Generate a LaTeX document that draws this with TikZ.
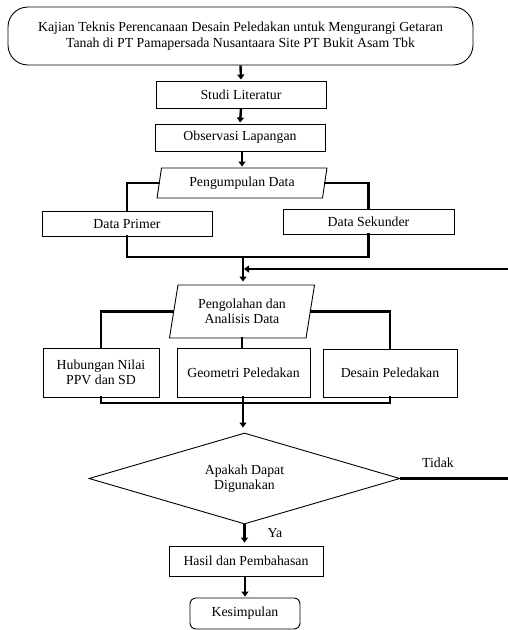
\documentclass[tikz,border=0pt]{standalone}
\usepackage{fontspec}
\setmainfont{Liberation Serif}
\usetikzlibrary{shapes.geometric,arrows.meta}
\begin{document}
\begin{tikzpicture}[x=1pt,y=-1pt,
  every node/.style={font=\fontsize{13.8}{15.5}\selectfont, align=center, inner sep=0pt},
  box/.style={draw, line width=0.9pt, minimum width=#1},
  para/.style={draw, line width=0.9pt, trapezium, trapezium left angle=77, trapezium right angle=103, trapezium stretches=true},
  link/.style={line width=2.4pt, line cap=rect},
  arr/.style={line width=2.4pt, -{Triangle[length=5pt,width=7pt]}, shorten >=1pt}
]
\useasboundingbox (0,0) rectangle (508,630);

\node[box=465, minimum height=58, rounded corners=20] (top) at (240.5,36)
  {Kajian Teknis Perencanaan Desain Peledakan untuk Mengurangi Getaran\\Tanah di PT Pamapersada Nusantaara Site PT Bukit Asam Tbk};
\node[box=170, minimum height=27] (studi) at (241,94.5) {Studi Literatur};
\node[box=170, minimum height=27] (obs) at (240,137.5) {Observasi Lapangan};
\node[para, minimum width=170, minimum height=30] (pk) at (242,183) {Pengumpulan Data};
\node[box=170, minimum height=25] (dp) at (127,223.5) {Data Primer};
\node[box=171, minimum height=25] (ds) at (368.5,221.5) {Data Sekunder};
\coordinate (j1) at (243,257);
\coordinate (fb) at (508,269);
\node[para, minimum width=146, minimum height=53] (po) at (242,311.5) {Pengolahan dan\\Analisis Data};
\node[box=116, minimum height=49] (hub) at (101,372.5) {Hubungan Nilai\\PPV dan SD};
\node[box=133, minimum height=49] (geo) at (243.5,372.5) {Geometri Peledakan};
\node[box=134, minimum height=48] (des) at (390,373) {Desain Peledakan};
\coordinate (j2) at (243,403);
\node[draw, line width=0.9pt, diamond, aspect=3.4, minimum width=311, minimum height=91] (dia) at (244.5,478.5) {Apakah Dapat\\Digunakan};
\coordinate (td) at (508,478.5);
\node (tidak) at (438,463) {Tidak};
\node (ya) at (275,533) {Ya};
\node[box=154, minimum height=30] (hasil) at (246,561) {Hasil dan Pembahasan};
\node[box=110, minimum height=31, rounded corners=6] (kes) at (245,613.5) {Kesimpulan};

\draw[arr] (top.south) -- (studi.north);
\draw[arr] (studi.south) -- (obs.north);
\draw[arr] (obs.south -| pk.north) -- (pk.north);
\draw[link] (pk.west) -| (dp.north);
\draw[link] (pk.east) -| (ds.north);
\draw[link] (dp.south) |- (j1);
\draw[link] (ds.south) |- (j1);
\draw[arr, shorten >=3pt] (j1) -- (j1 |- po.north);
\draw[arr] (fb) -- (fb -| j1);
\draw[link] (po.west) -| (hub.north);
\draw[link] (po.east) -| (des.north);
\draw[link] (po.south) -- (po.south |- geo.north);
\draw[link] (hub.south) |- (j2);
\draw[link] (des.south) |- (j2);
\draw[link] (geo.south -| j2) -- (j2);
\draw[arr, shorten >=5pt] (j2) -- (j2 |- dia.north);
\draw[line width=2.4pt] (dia.east) -- (td);
\draw[arr, shorten >=3pt] (dia.south) -- (dia.south |- hasil.north);
\draw[arr] (hasil.south -| kes.north) -- (kes.north);
\end{tikzpicture}
\end{document}
